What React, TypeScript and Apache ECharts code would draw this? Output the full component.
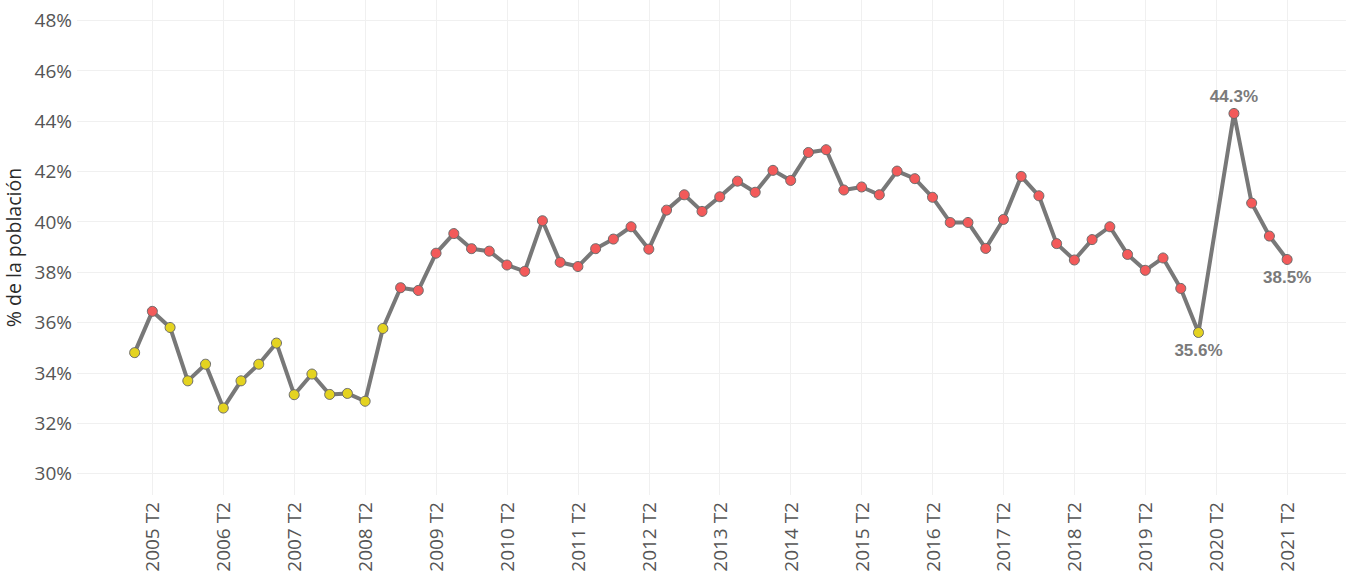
import React, { useEffect, useRef } from "react";
import * as echarts from "echarts";

const quarters: string[] = [
  "2005 T1", "2005 T2", "2005 T3", "2005 T4",
  "2006 T1", "2006 T2", "2006 T3", "2006 T4",
  "2007 T1", "2007 T2", "2007 T3", "2007 T4",
  "2008 T1", "2008 T2", "2008 T3", "2008 T4",
  "2009 T1", "2009 T2", "2009 T3", "2009 T4",
  "2010 T1", "2010 T2", "2010 T3", "2010 T4",
  "2011 T1", "2011 T2", "2011 T3", "2011 T4",
  "2012 T1", "2012 T2", "2012 T3", "2012 T4",
  "2013 T1", "2013 T2", "2013 T3", "2013 T4",
  "2014 T1", "2014 T2", "2014 T3", "2014 T4",
  "2015 T1", "2015 T2", "2015 T3", "2015 T4",
  "2016 T1", "2016 T2", "2016 T3", "2016 T4",
  "2017 T1", "2017 T2", "2017 T3", "2017 T4",
  "2018 T1", "2018 T2", "2018 T3", "2018 T4",
  "2019 T1", "2019 T2", "2019 T3", "2019 T4",
  "2020 T1", "2020 T2", "2020 T3", "2020 T4",
  "2021 T1", "2021 T2",
];

const values: (number | null)[] = [
  34.8, 36.44, 35.8, 33.68,
  34.34, 32.6, 33.68, 34.34,
  35.18, 33.13, 33.95, 33.14,
  33.18, 32.87, 35.76, 37.38,
  37.27, 38.75, 39.53, 38.93,
  38.83, 38.28, 38.03, 40.04,
  38.39, 38.22, 38.93, 39.31,
  39.8, 38.91, 40.46, 41.07,
  40.41, 40.99, 41.61, 41.17,
  42.04, 41.64, 42.75, 42.86,
  41.26, 41.38, 41.07, 42.01,
  41.71, 40.97, 39.97, 39.97,
  38.94, 40.09, 41.8, 41.03,
  39.13, 38.48, 39.29, 39.8,
  38.7, 38.07, 38.56, 37.35,
  35.6, null, 44.3, 40.74,
  39.43, 38.5,
];

const yTicks: number[] = [30, 32, 34, 36, 38, 40, 42, 44, 46, 48];

const annotated: { quarter: string; position: "top" | "bottom" }[] = [
  { quarter: "2020 T1", position: "bottom" },
  { quarter: "2020 T3", position: "top" },
  { quarter: "2021 T2", position: "bottom" },
];

const THRESHOLD = 36;

export default function App() {
  const ref = useRef<HTMLDivElement>(null);

  useEffect(() => {
    if (!ref.current) return;
    const chart = echarts.init(ref.current, null, { renderer: "svg" });

    const xTickIdx = quarters
      .map((q, i) => (q.endsWith("T2") ? i : -1))
      .filter((i) => i >= 0);

    const data: any[] = [];
    values.forEach((v, i) => {
      if (v === null) return;
      const ann = annotated.find((a) => a.quarter === quarters[i]);
      const item: any = {
        value: [i, v],
        itemStyle: { color: v >= THRESHOLD ? "#f35a5a" : "#e4d320" },
      };
      if (ann) {
        item.label = {
          show: true,
          position: ann.position,
          distance: ann.position === "top" ? 3 : 4,
          formatter: () => v.toFixed(1) + "%",
          color: "#7a7a7a",
          fontWeight: "bold",
          fontSize: 17,
          fontFamily: "'Liberation Sans', Arial, sans-serif",
        };
      }
      data.push(item);
    });

    chart.setOption({
      animation: false,
      backgroundColor: "#ffffff",
      grid: {
        left: 77,
        right: 0,
        top: 0,
        bottom: 80,
        containLabel: false,
        outerBoundsMode: "none",
      },
      xAxis: {
        type: "value",
        min: -3.25,
        max: 68.32,
        axisLine: { show: false },
        axisTick: { show: false, customValues: xTickIdx },
        splitLine: { show: true, lineStyle: { color: "#f0f0f0", width: 1 } },
        axisLabel: {
          customValues: xTickIdx,
          rotate: 90,
          margin: 7,
          color: "#555555",
          fontSize: 19,
          fontFamily: "'Open Sans', sans-serif",
          formatter: (v: number) => quarters[Math.round(v)] ?? "",
        },
      },
      yAxis: {
        type: "value",
        min: 29.146,
        max: 48.806,
        name: "% de la población",
        nameLocation: "middle",
        nameRotate: 90,
        nameGap: 46,
        nameTextStyle: {
          color: "#2a2a2a",
          fontSize: 19.5,
          fontFamily: "'Open Sans', sans-serif",
        },
        axisLine: { show: false },
        axisTick: { show: false, customValues: yTicks },
        splitLine: { show: true, lineStyle: { color: "#f0f0f0", width: 1 } },
        axisLabel: {
          customValues: yTicks,
          margin: 5,
          color: "#555555",
          fontSize: 19,
          fontFamily: "'Open Sans', sans-serif",
          formatter: (v: number) => Math.round(v) + "%",
        },
      },
      series: [
        {
          type: "line",
          data,
          symbol: "circle",
          symbolSize: 10,
          lineStyle: { color: "#787878", width: 4 },
          itemStyle: { borderColor: "#6a6a6a", borderWidth: 1 },
          z: 3,
        },
      ],
    });

    return () => chart.dispose();
  }, []);

  return (
    <div
      ref={ref}
      style={{ position: "absolute", left: 0, top: 0, width: 1346, height: 575 }}
    />
  );
}
